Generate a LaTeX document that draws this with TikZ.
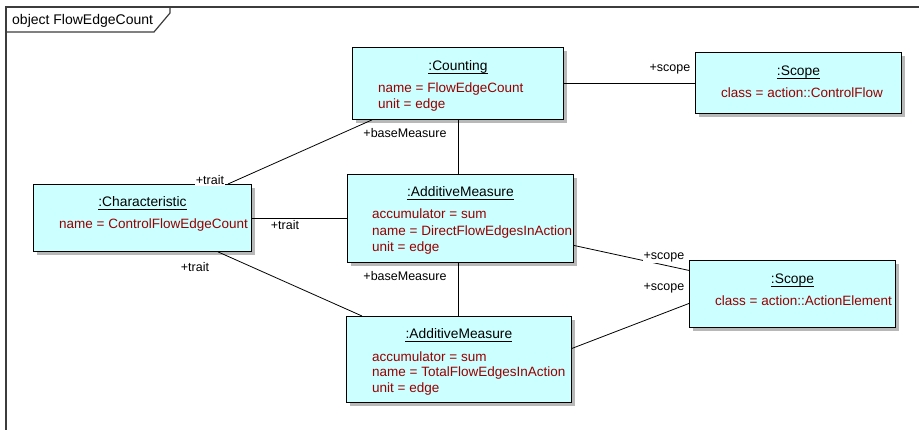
\documentclass[tikz,border=0pt]{standalone}
\usepackage{fontspec}
\setmainfont{Liberation Sans}
\usetikzlibrary{shadows,calc}
\definecolor{boxfill}{RGB}{204,255,255}
\definecolor{attrcol}{RGB}{153,0,0}
\definecolor{framecol}{RGB}{60,60,60}
\begin{document}
\begin{tikzpicture}[x=1pt,y=-1pt,
  objbox/.style={draw=black, line width=0.9pt, fill=boxfill, inner sep=0pt, anchor=north west,
    drop shadow={shadow xshift=4pt, shadow yshift=-4pt, fill=black!28, opacity=1}},
  objtitle/.style={anchor=base, inner sep=0pt, font=\fontsize{13.8}{16}\selectfont},
  attrtext/.style={anchor=base west, inner sep=0pt, text=attrcol, font=\fontsize{13.5}{16}\selectfont},
  role/.style={fill=white, inner sep=1pt, font=\fontsize{12.5}{15}\selectfont},
  conn/.style={draw=black, line width=0.8pt},
  uline/.style={draw=black, line width=0.7pt}]
\useasboundingbox (0,0) rectangle (919,430);
% frame
\draw[framecol, line width=1.2pt] (919,7) -- (6,7) -- (6,430);
\draw[framecol, line width=1.2pt] (6,32) -- (154,32) -- (170,13) -- (170,7);
\node[anchor=base west, inner sep=0pt, font=\fontsize{14}{16}\selectfont] (ttl) at (12,25) {object FlowEdgeCount};
% boxes
\node[objbox, minimum width=211pt, minimum height=72pt] (cnt) at (352,47) {};
\node[objbox, minimum width=206pt, minimum height=61pt] (sc1) at (695,52) {};
\node[objbox, minimum width=218pt, minimum height=67pt] (chr) at (33,184) {};
\node[objbox, minimum width=226pt, minimum height=88pt] (am1) at (347,174) {};
\node[objbox, minimum width=206pt, minimum height=67pt] (sc2) at (689,260) {};
\node[objbox, minimum width=225pt, minimum height=86pt] (am2) at (346,316) {};
% connectors
\draw[conn] (cnt.east) -- (cnt.east -| sc1.west);
\draw[conn] (cnt.south) -- (cnt.south |- am1.north);
\draw[conn] (cnt.south |- am1.south) -- (cnt.south |- am2.north);
\draw[conn] ([xshift=195pt]chr.north west) -- ([xshift=20pt]cnt.south west);
\draw[conn] (chr.east) -- (chr.east -| am1.west);
\draw[conn] ([xshift=185pt]chr.south west) -- ([xshift=16pt]am2.north west);
\draw[conn] ([yshift=-27pt]am1.east) -- ([yshift=23.5pt]sc2.west);
\draw[conn] ([yshift=11pt]am2.east) -- ([yshift=-9.5pt]sc2.west);
% role labels
\node[role] (r1) at (670,69) {+scope};
\node[role] (r2) at (405,133) {+baseMeasure};
\node[role] (r3) at (210,180) {+trait};
\node[role] (r4) at (285,225) {+trait};
\node[role] (r5) at (195,267) {+trait};
\node[role] (r6) at (405,276) {+baseMeasure};
\node[role] (r7) at (664,257) {+scope};
\node[role] (r8) at (664,288) {+scope};
% Counting
\node[objtitle] (t1) at (cnt.center |- 0,71) {:Counting};
\draw[uline] ([yshift=-2pt]t1.base west) -- ([yshift=-2pt]t1.base east);
\node[attrtext] (a11) at (378,93) {name = FlowEdgeCount};
\node[attrtext] (a12) at (378,109) {unit = edge};
% Scope 1
\node[objtitle] (t2) at (sc1.center |- 0,76) {:Scope};
\draw[uline] ([yshift=-2pt]t2.base west) -- ([yshift=-2pt]t2.base east);
\node[attrtext] (a21) at (721,98) {class = action::ControlFlow};
% Characteristic
\node[objtitle] (t3) at (chr.center |- 0,207) {:Characteristic};
\draw[uline] ([yshift=-2pt]t3.base west) -- ([yshift=-2pt]t3.base east);
\node[attrtext] (a31) at (59,229) {name = ControlFlowEdgeCount};
% AdditiveMeasure 1
\node[objtitle] (t4) at (am1.center |- 0,197) {:AdditiveMeasure};
\draw[uline] ([yshift=-2pt]t4.base west) -- ([yshift=-2pt]t4.base east);
\node[attrtext] (a41) at (372,219) {accumulator = sum};
\node[attrtext] (a42) at (372,236) {name = DirectFlowEdgesInAction};
\node[attrtext] (a43) at (372,252) {unit = edge};
% Scope 2
\node[objtitle] (t5) at (sc2.center |- 0,284) {:Scope};
\draw[uline] ([yshift=-2pt]t5.base west) -- ([yshift=-2pt]t5.base east);
\node[attrtext] (a51) at (715,306) {class = action::ActionElement};
% AdditiveMeasure 2
\node[objtitle] (t6) at (am2.center |- 0,339) {:AdditiveMeasure};
\draw[uline] ([yshift=-2pt]t6.base west) -- ([yshift=-2pt]t6.base east);
\node[attrtext] (a61) at (372,362) {accumulator = sum};
\node[attrtext] (a62) at (372,377) {name = TotalFlowEdgesInAction};
\node[attrtext] (a63) at (372,393) {unit = edge};
\end{tikzpicture}
\end{document}
